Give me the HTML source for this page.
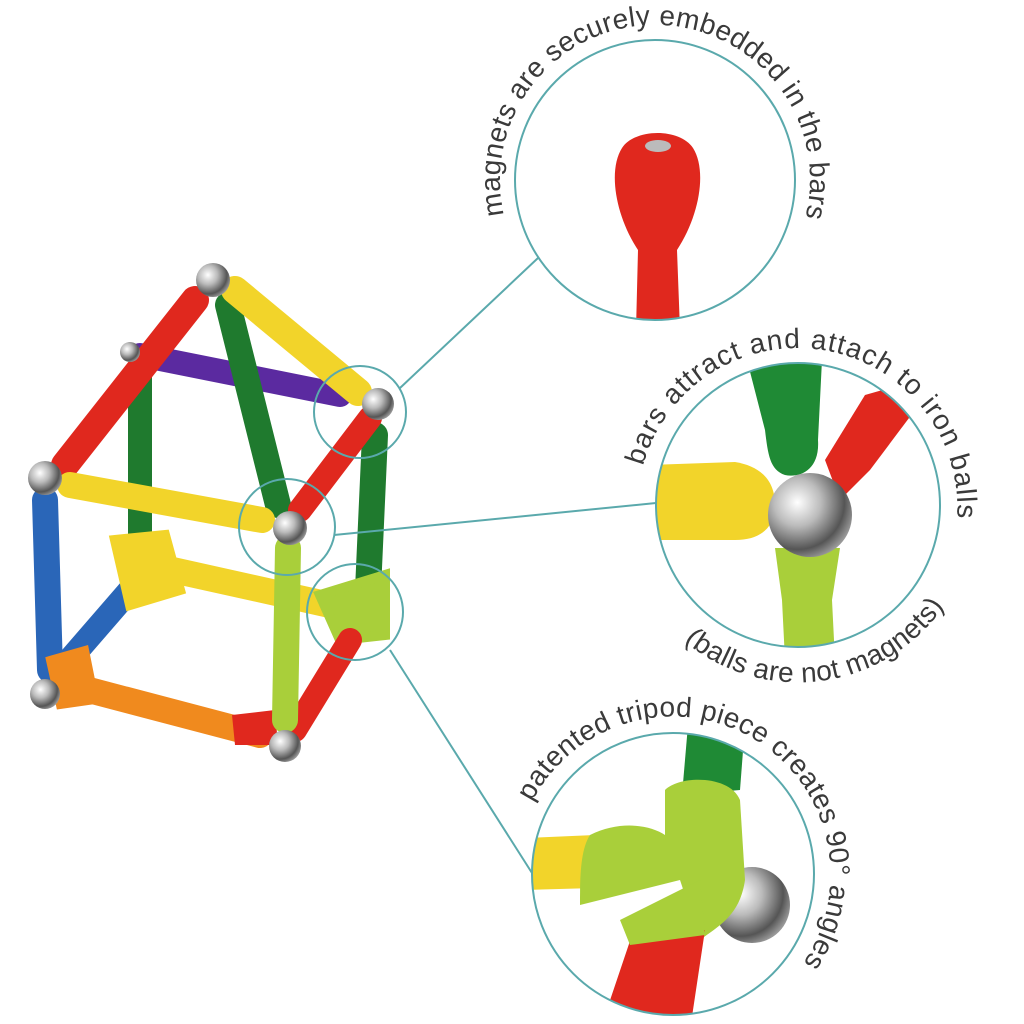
<!DOCTYPE html>
<html><head><meta charset="utf-8"><style>
html,body{margin:0;padding:0;background:#fff;width:1024px;height:1024px;overflow:hidden}
svg text{font-family:"Liberation Sans",sans-serif;fill:#3a3a3a;font-size:28px}
</style></head><body>
<svg width="1024" height="1024" viewBox="0 0 1024 1024" xmlns="http://www.w3.org/2000/svg">
<defs>
<radialGradient id="ball" cx="0.35" cy="0.35" r="0.7"><stop offset="0" stop-color="#fff"/><stop offset="0.4" stop-color="#bbb"/><stop offset="0.8" stop-color="#555"/><stop offset="1" stop-color="#999"/></radialGradient>
<clipPath id="c1"><circle cx="655" cy="180" r="140"/></clipPath>
<clipPath id="c2"><circle cx="798" cy="505" r="142"/></clipPath>
<clipPath id="c3"><circle cx="673" cy="874" r="141"/></clipPath>
<path id="p1" d="M504,215 A155,155 0 1,1 802,229"/>
<path id="p2" d="M643,466 A160,160 0 0,1 957,519"/>
<path id="p3" d="M684,641 A178,178 0 0,0 950,597"/>
<path id="p4" d="M532,802 A158,158 0 1,1 799,969"/>
</defs>
<g stroke-linecap="round" fill="none">
<line x1="140" y1="375" x2="140" y2="540" stroke="#1f7a2e" stroke-width="24"/>
<line x1="140" y1="355" x2="340" y2="395" stroke="#5b2aa0" stroke-width="24"/>
<line x1="130" y1="590" x2="65" y2="665" stroke="#2a66b8" stroke-width="24"/>
<line x1="150" y1="565" x2="330" y2="605" stroke="#f2d42a" stroke-width="26"/>
<path d="M115,540 L165,535 L180,590 L130,605 Z" fill="#f2d42a" stroke="#f2d42a" stroke-width="10"/>
<line x1="375" y1="435" x2="368" y2="590" stroke="#1f7a2e" stroke-width="26"/>
<path d="M320,595 L385,575 L385,635 L340,640 Z" fill="#a9cf3a" stroke="#a9cf3a" stroke-width="10"/>
<line x1="350" y1="640" x2="295" y2="730" stroke="#e0281e" stroke-width="24"/>
<line x1="195" y1="300" x2="65" y2="465" stroke="#e0281e" stroke-width="28"/>
<line x1="228" y1="305" x2="278" y2="505" stroke="#1f7a2e" stroke-width="26"/>
<line x1="235" y1="290" x2="358" y2="392" stroke="#f2d42a" stroke-width="28"/>
<line x1="70" y1="485" x2="262" y2="520" stroke="#f2d42a" stroke-width="26"/>
<line x1="370" y1="418" x2="300" y2="510" stroke="#e0281e" stroke-width="24"/>
<line x1="45" y1="500" x2="50" y2="670" stroke="#2a66b8" stroke-width="26"/>
<line x1="70" y1="685" x2="260" y2="735" stroke="#f08a1e" stroke-width="26"/>
<path d="M50,660 L85,650 L95,700 L60,705 Z" fill="#f08a1e" stroke="#f08a1e" stroke-width="8"/>
<path d="M232,715 L275,710 L278,745 L235,745 Z" fill="#e0281e"/>
<line x1="288" y1="548" x2="285" y2="720" stroke="#a9cf3a" stroke-width="26"/>
</g>
<g fill="url(#ball)">
<circle cx="213" cy="280" r="17"/><circle cx="378" cy="404" r="16"/><circle cx="45" cy="478" r="17"/>
<circle cx="290" cy="528" r="17"/><circle cx="45" cy="694" r="15"/><circle cx="285" cy="746" r="16"/>
<circle cx="130" cy="352" r="10"/>
</g>
<g stroke="#5aa9ac" stroke-width="2" fill="none">
<circle cx="360" cy="412" r="46"/><circle cx="287" cy="527" r="48"/><circle cx="355" cy="612" r="48"/>
<line x1="400" y1="388" x2="538" y2="258"/>
<line x1="334" y1="535" x2="656" y2="503"/>
<line x1="390" y1="650" x2="532" y2="873"/>
</g>
<g clip-path="url(#c1)">
<path d="M636,330 L638,250 C615,215 608,170 622,148 C635,128 680,128 693,148 C707,170 700,215 677,250 L680,330 Z" fill="#e0281e"/>
<ellipse cx="658" cy="146" rx="13" ry="6" fill="#bbb"/>
</g>
<g clip-path="url(#c2)">
<path d="M747,360 L822,360 L818,440 C820,470 800,478 785,475 C770,470 768,455 765,430 Z" fill="#1f8a35"/>
<path d="M900,385 L865,395 L825,460 L840,500 L870,470 L915,410 Z" fill="#e0281e"/>
<path d="M650,465 L735,462 C760,466 775,480 775,505 C775,528 760,540 735,540 L650,540 Z" fill="#f2d42a"/>
<path d="M775,548 L840,548 L832,600 L835,660 L785,660 L782,600 Z" fill="#a9cf3a"/>
<circle cx="810" cy="515" r="42" fill="url(#ball)"/>
</g>
<g clip-path="url(#c3)">
<path d="M688,725 L745,725 L740,790 L682,795 Z" fill="#1f8a35"/>
<path d="M525,838 L595,835 L595,888 L525,890 Z" fill="#f2d42a"/>
<circle cx="752" cy="905" r="38" fill="url(#ball)"/>
<path d="M665,790 C680,775 730,775 740,800 L745,880 C740,915 720,925 700,940 L680,880 L580,905 C580,880 580,850 590,835 C620,820 650,825 665,835 Z" fill="#a9cf3a"/>
<path d="M632,935 L705,930 L690,1030 L600,1030 Z" fill="#e0281e"/>
<path d="M620,920 L700,880 L705,935 L630,945 Z" fill="#a9cf3a"/>
</g>
<g stroke="#5aa9ac" stroke-width="2" fill="none">
<circle cx="655" cy="180" r="140"/><circle cx="798" cy="505" r="142"/><circle cx="673" cy="874" r="141"/>
</g>
<text><textPath href="#p1" textLength="560" lengthAdjust="spacing">magnets are securely embedded in the bars</textPath></text>
<text><textPath href="#p2" textLength="470" lengthAdjust="spacing">bars attract and attach to iron balls</textPath></text>
<text><textPath href="#p3" textLength="295" lengthAdjust="spacing">(balls are not magnets)</textPath></text>
<text><textPath href="#p4" textLength="515" lengthAdjust="spacing">patented tripod piece creates 90° angles</textPath></text>
</svg>
</body></html>
